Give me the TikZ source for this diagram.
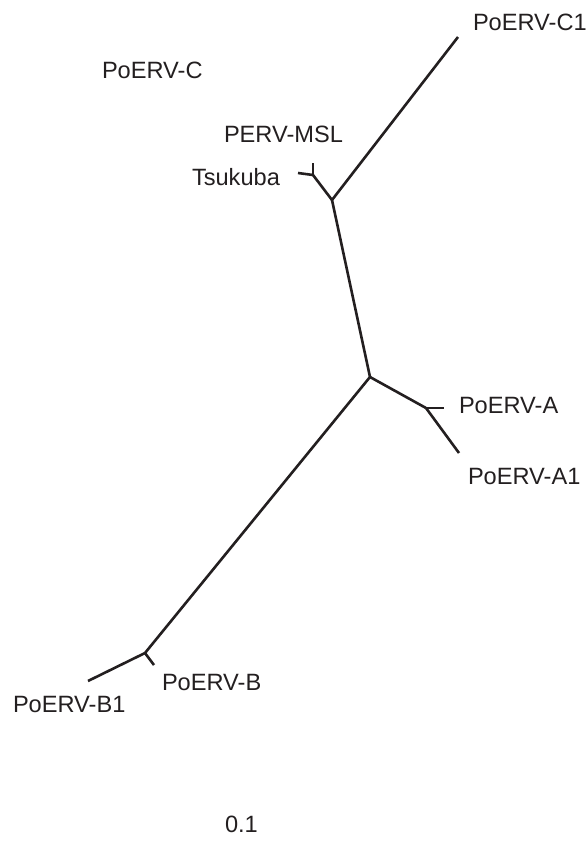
\documentclass[tikz,border=0pt]{standalone}
\usepackage{fontspec}
\setmainfont{Liberation Sans}
\definecolor{ink}{HTML}{231F20}
\begin{document}
\begin{tikzpicture}[x=1pt,y=-1pt,
  branch/.style={draw=ink,line width=2.6pt,line cap=butt,line join=miter},
  lbl/.style={anchor=base west,inner sep=0pt,outer sep=0pt,text=ink,font=\fontsize{23.6}{27}\selectfont}]
\useasboundingbox (0,0) rectangle (586,847);
% internal nodes
\coordinate (root) at (370,377);
\coordinate (n1) at (332,200);
\coordinate (nt) at (313,175);
\coordinate (na) at (426,408);
\coordinate (nb) at (145,653);
% tips
\coordinate (tC1) at (458,37);
\coordinate (tTs) at (298,173);
\coordinate (tMSL) at (313,163);
\coordinate (tA) at (444,408);
\coordinate (tA1) at (459,453);
\coordinate (tB) at (154,665);
\coordinate (tB1) at (88,681);
% branches
\draw[branch] (root) -- (n1);
\draw[branch] (n1) -- (tC1);
\draw[branch] (n1) -- (nt);
\draw[branch] (nt) -- (tTs);
\draw[branch] (nt) -- (tMSL);
\draw[branch] (root) -- (na);
\draw[branch] (na) -- (tA);
\draw[branch] (na) -- (tA1);
\draw[branch] (root) -- (nb);
\draw[branch] (nb) -- (tB);
\draw[branch] (nb) -- (tB1);
% labels
\node[lbl] (lC1) at (473,30) {PoERV-C1};
\node[lbl] (lC) at (102,78) {PoERV-C};
\node[lbl] (lMSL) at (224,142) {PERV-MSL};
\node[lbl] (lTs) at (192,185) {Tsukuba};
\node[lbl] (lA) at (459,413) {PoERV-A};
\node[lbl] (lA1) at (468,484) {PoERV-A1};
\node[lbl] (lB) at (162,690) {PoERV-B};
\node[lbl] (lB1) at (13,712) {PoERV-B1};
\node[lbl] (scale) at (225,832) {0.1};
\end{tikzpicture}
\end{document}
